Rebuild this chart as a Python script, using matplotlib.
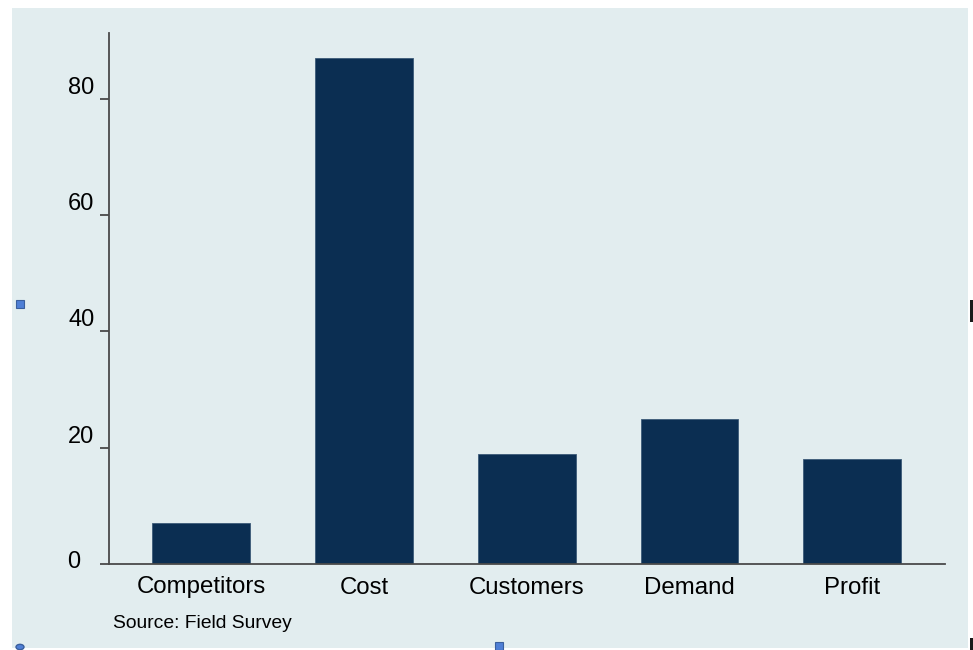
import matplotlib
matplotlib.use("Agg")
import matplotlib.pyplot as plt
from matplotlib.patches import Rectangle, Circle
from matplotlib.transforms import ScaledTranslation

plt.rcParams['font.family'] = ['Liberation Sans', 'DejaVu Sans']

categories = ["Competitors", "Cost", "Customers", "Demand", "Profit"]
values = [7, 87, 19, 25, 18]
yticks = [0, 20, 40, 60, 80]
source_note = "Source: Field Survey"

bg = "#e2edef"
bar_color = "#0b2e52"
axis_color = "#4a4a4a"

fig = plt.figure(figsize=(9.73, 6.5), dpi=100, facecolor="white")

# panel background
fig.patches.append(Rectangle((12 / 973, 2 / 650), 956 / 973, 640 / 650,
                             transform=fig.transFigure, facecolor=bg,
                             edgecolor="none", zorder=-5))

ax = fig.add_axes([109 / 973, 86 / 650, 836 / 973, 531 / 650])
ax.set_facecolor("none")
ax.set_zorder(2)

x = range(len(categories))
ax.bar(x, values, width=0.6, color=bar_color, edgecolor="#3c5a78",
       linewidth=0.6, zorder=2)

ax.set_xlim(-0.566, len(categories) - 1 + 0.57)
ax.set_ylim(0, max(values) * 1.05)

ax.set_yticks(yticks)
ax.set_yticklabels([str(v) for v in yticks])
ax.set_xticks(list(x))
ax.set_xticklabels(categories)

for s in ("top", "right"):
    ax.spines[s].set_visible(False)
for s in ("left", "bottom"):
    ax.spines[s].set_color(axis_color)
    ax.spines[s].set_linewidth(1.3)

ax.tick_params(axis="y", length=6.5, width=1.3, color=axis_color,
               labelsize=17, pad=4, labelcolor="black")
ax.tick_params(axis="x", length=0, labelsize=17.3, pad=9, labelcolor="black")
for lbl in ax.get_yticklabels():
    lbl.set_verticalalignment("bottom")

# the zero label sits lower and further left, clear of the baseline
zero_lbl = ax.get_yticklabels()[0]
zero_lbl.set_transform(zero_lbl.get_transform() +
                       ScaledTranslation(-14 / 100, -9 / 100, fig.dpi_scale_trans))

fig.text(113 / 973, 1 - 623 / 650, source_note, fontsize=13.9,
         ha="left", va="center", color="black")

# selection handles
for (hx, hy) in [(20, 304), (499, 646)]:
    fig.patches.append(Rectangle(((hx - 4) / 973, 1 - (hy + 4) / 650),
                                 8 / 973, 8 / 650, transform=fig.transFigure,
                                 facecolor="#4f7fd6", edgecolor="#3a5f9e",
                                 linewidth=0.8, zorder=5))
fig.patches.append(Circle((20 / 973, 1 - 647 / 650), 4 / 973,
                          transform=fig.transFigure, facecolor="#4f7fd6",
                          edgecolor="#3a5f9e", zorder=5))
for (hy0, hy1) in [(300, 322), (638, 650)]:
    fig.patches.append(Rectangle((970 / 973, 1 - hy1 / 650), 3 / 973,
                                 (hy1 - hy0) / 650, transform=fig.transFigure,
                                 facecolor="#1a1a1a", edgecolor="none", zorder=5))

fig.savefig("out.png", dpi=100, facecolor="white")
